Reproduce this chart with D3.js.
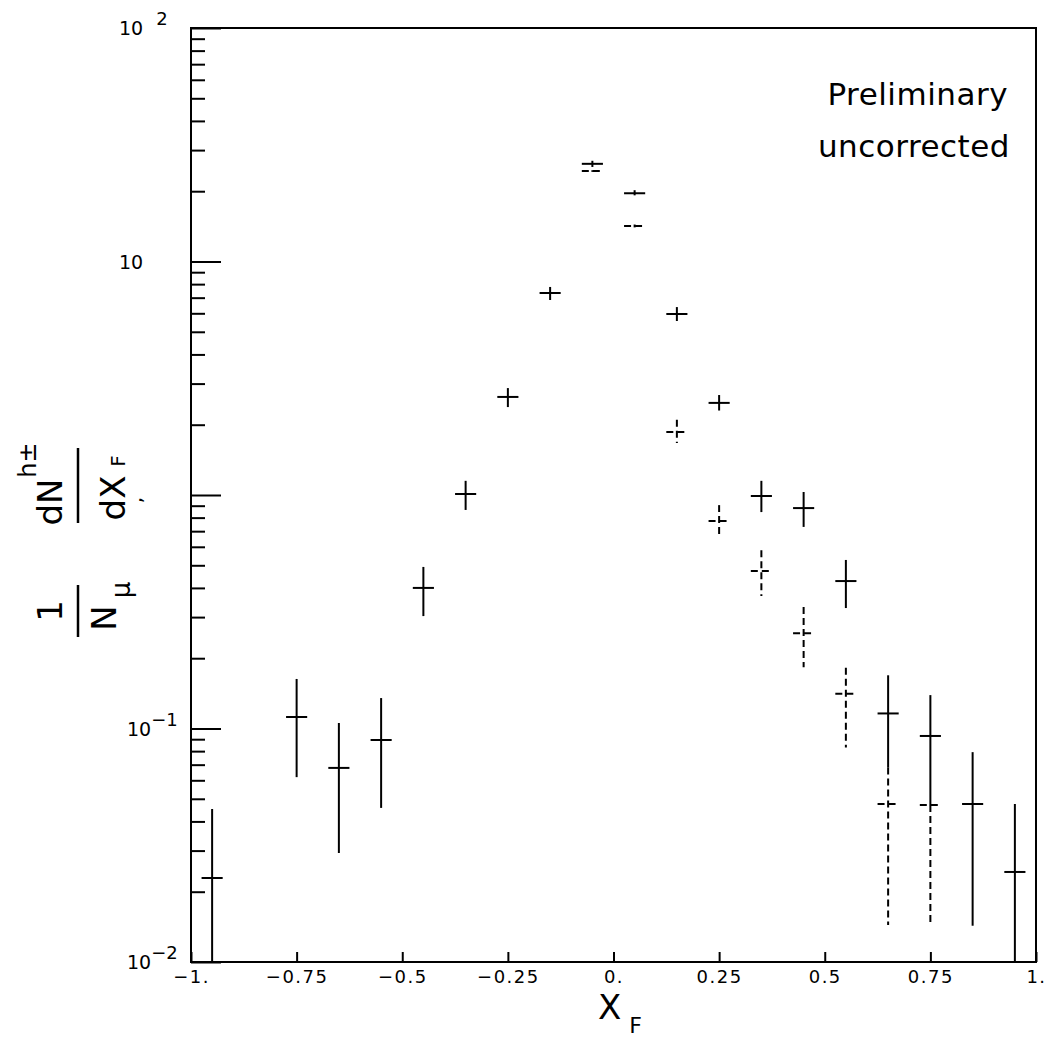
<!DOCTYPE html>
<html><head><meta charset="utf-8">
<script src="https://cdn.jsdelivr.net/npm/d3@7"></script>
<style>body{margin:0;background:#fff}svg{display:block}</style>
</head><body>
<svg id="c" width="1048" height="1038"></svg>
<script>
// ---- data ----
const xfBins   = [-0.95,-0.75,-0.65,-0.55,-0.45,-0.35,-0.25,-0.15,-0.05,0.05,0.15,0.25,0.35,0.45,0.55,0.65,0.75,0.85,0.95];
const solidVal = [0.0229,0.112,0.0678,0.0893,0.400,1.01,2.63,7.33,26.2,19.6,5.96,2.48,0.99,0.879,0.428,0.116,0.0929,0.0475,0.0243];
const solidLo  = [0.008,0.0619,0.0293,0.0457,0.303,0.863,2.38,6.84,25.4,19.2,5.56,2.30,0.845,0.73,0.328,0.068,0.047,0.0143,0.008];
const solidHi  = [0.0452,0.163,0.1056,0.135,0.492,1.15,2.87,7.78,27.0,20.2,6.38,2.68,1.15,1.03,0.527,0.169,0.139,0.0792,0.0475];
const dashX    = [-0.05,0.05,0.15,0.25,0.35,0.45,0.55,0.65,0.75];
const dashVal  = [24.4,14.2,1.86,0.774,0.473,0.256,0.141,0.0475,0.047];
const dashLo   = [24.2,14.0,1.67,0.654,0.369,0.183,0.083,0.0144,0.0144];
const dashHi   = [24.6,14.4,2.10,0.905,0.58,0.331,0.182,0.068,0.047];
const xTicks   = [-1,-0.75,-0.5,-0.25,0,0.25,0.5,0.75,1];
const xTickLabels = ["\u22121.","\u22120.75","\u22120.5","\u22120.25","0.","0.25","0.5","0.75","1."];
const yDecades = [0.01,0.1,1,10,100];
const binHalfWidth = 0.025;

// ---- layout ----
const svg = d3.select("#c");
const x = d3.scaleLinear().domain([-1,1]).range([191,1036]);
const y = d3.scaleLog().domain([0.01,100]).range([962,28]);
const clampY = v => y(Math.max(0.01, Math.min(100, v)));

// frame
svg.append("rect").attr("x",x(-1)).attr("y",y(100)).attr("width",x(1)-x(-1)).attr("height",y(0.01)-y(100))
  .attr("fill","none").attr("stroke","#000").attr("stroke-width",2);

// y ticks (inward, on left)
const minorVals = [];
for (let k=-2;k<2;k++) for (let m=2;m<=9;m++) minorVals.push(m*Math.pow(10,k));
const yMinor = d3.axisRight(y).tickValues(minorVals).tickSize(14).tickFormat("");
const yMajor = d3.axisRight(y).tickValues(yDecades).tickSize(30).tickFormat("");
[yMinor,yMajor].forEach(a=>{
  const g = svg.append("g").attr("transform",`translate(${x(-1)},0)`).call(a);
  g.select(".domain").remove();
  g.selectAll("line").attr("stroke","#000").attr("stroke-width",2);
});

// y labels
const yLab = svg.append("g").attr("font-family","DejaVu Sans, sans-serif").attr("fill","#000");
const expo = {100:"2",10:"",1:null,0.1:"\u22121",0.01:"\u22122"};
yDecades.forEach(v=>{
  const e = expo[v];
  if (e===null) return;
  const t = yLab.append("text").attr("x",e.length>1?127:119).attr("y",y(v)+7).attr("font-size",19);
  t.append("tspan").text("10");
  if (e!=="") t.append("tspan").attr("dx",e==="2"?13:0).attr("dy",-10).attr("font-size",18).text(e);
});

// x axis ticks and labels
const xa = d3.axisBottom(x).tickValues(xTicks).tickSizeInner(-10).tickSizeOuter(0).tickPadding(8)
  .tickFormat((d,i)=>xTickLabels[i]);
const gx = svg.append("g").attr("transform",`translate(0,${y(0.01)})`).call(xa);
gx.select(".domain").remove();
gx.selectAll("line").attr("stroke","#000").attr("stroke-width",2);
gx.selectAll("text").attr("font-family","DejaVu Sans, sans-serif").attr("font-size",18)
  .attr("letter-spacing","1.5px").attr("fill","#000");

// ---- data marks ----
function crosses(xs, vals, lo, hi, dashed){
  const g = svg.append("g").attr("stroke","#000").attr("stroke-width",2)
    .attr("stroke-dasharray",dashed?"7,4":null);
  g.selectAll(".h").data(xs).join("line")
    .attr("x1",d=>x(d-binHalfWidth)).attr("x2",d=>x(d+binHalfWidth))
    .attr("y1",(d,i)=>y(vals[i])).attr("y2",(d,i)=>y(vals[i]));
  g.selectAll(".v").data(xs).join("line")
    .attr("x1",d=>x(d)).attr("x2",d=>x(d))
    .attr("y1",(d,i)=>clampY(hi[i])).attr("y2",(d,i)=>clampY(lo[i]));
}
crosses(xfBins, solidVal, solidLo, solidHi, false);
crosses(dashX, dashVal, dashLo, dashHi, true);

// annotation
const ann = svg.append("g").attr("font-family","DejaVu Sans, sans-serif")
  .attr("font-size",31).attr("fill","#000").attr("text-anchor","end").attr("letter-spacing","0.5px");
ann.append("text").attr("x",1008).attr("y",105).text("Preliminary");
ann.append("text").attr("x",1010).attr("y",157).text("uncorrected");

// x title
const xt = svg.append("text").attr("x",598).attr("y",1019).attr("font-family","DejaVu Sans, sans-serif")
  .attr("font-size",34).attr("fill","#000");
xt.append("tspan").text("X");
xt.append("tspan").attr("dx",8).attr("dy",14).attr("font-size",22).text("F");

// y title (rotated pieces)
const yt = svg.append("g").attr("font-family","DejaVu Sans, sans-serif").attr("fill","#000");
function rtext(cx, cy, size, str){
  return yt.append("text").attr("transform",`translate(${cx},${cy}) rotate(-90)`)
    .attr("text-anchor","middle").attr("font-size",size).text(str);
}
rtext(62, 611, 34, "1");
yt.append("line").attr("x1",78).attr("x2",78).attr("y1",585).attr("y2",637).attr("stroke","#000").attr("stroke-width",2.5);
rtext(116, 610, 34, "N").attr("dx",-8);
rtext(130, 590, 26, "\u03bc");
rtext(62, 502, 34, "dN");
rtext(36, 460, 24, "h\u00b1");
yt.append("line").attr("x1",78).attr("x2",78).attr("y1",448).attr("y2",523).attr("stroke","#000").attr("stroke-width",2.5);
rtext(125, 498, 34, "dX");
rtext(125, 461, 20, "F");
rtext(142, 500, 20, ",");
</script>
</body></html>
